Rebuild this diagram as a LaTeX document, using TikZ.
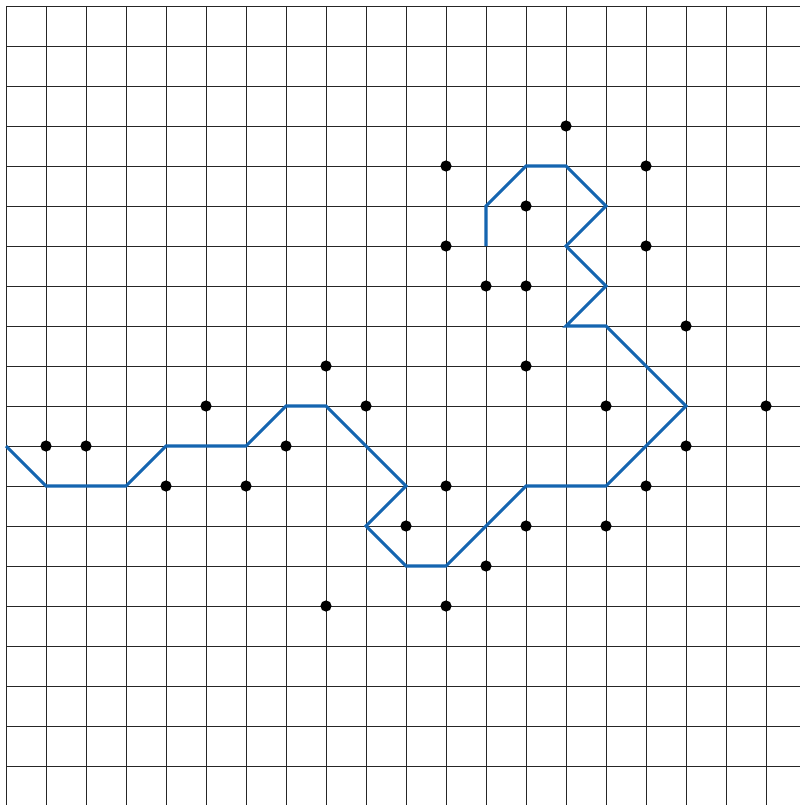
\documentclass[tikz,border=0pt]{standalone}
\begin{document}
\begin{tikzpicture}[x=1cm,y=-1cm,
  gridline/.style={line width=0.6pt, draw=black!85},
  route/.style={line width=2.2pt, draw={rgb,255:red,21;green,101;blue,176}, line join=miter},
  dot/.style={fill=black}]
\useasboundingbox (-0.15,-0.15) rectangle (19.85,19.975);
\fill[white] (-0.15,-0.15) rectangle (19.85,19.975);
\foreach \j in {0,...,19} \draw[gridline] (0,\j) -- (19.85,\j);
\foreach \i in {0,...,19} \draw[gridline] (\i,0) -- (\i,19.975);
\draw[route] (0,11) -- (1,12) -- (3,12) -- (4,11) -- (6,11) -- (7,10) -- (8,10)
  -- (10,12) -- (9,13) -- (10,14) -- (11,14) -- (13,12) -- (15,12) -- (17,10)
  -- (15,8) -- (14,8) -- (15,7) -- (14,6) -- (15,5) -- (14,4) -- (13,4)
  -- (12,5) -- (12,6);
\foreach \p in {(14,3),(11,4),(16,4),(13,5),(11,6),(16,6),(12,7),(13,7),(17,8),
  (8,9),(13,9),(5,10),(9,10),(15,10),(19,10),(1,11),(2,11),(7,11),(17,11),
  (4,12),(6,12),(11,12),(16,12),(10,13),(13,13),(15,13),(12,14),(8,15),(11,15)}
  \fill[dot] \p circle (0.14);
\end{tikzpicture}
\end{document}
